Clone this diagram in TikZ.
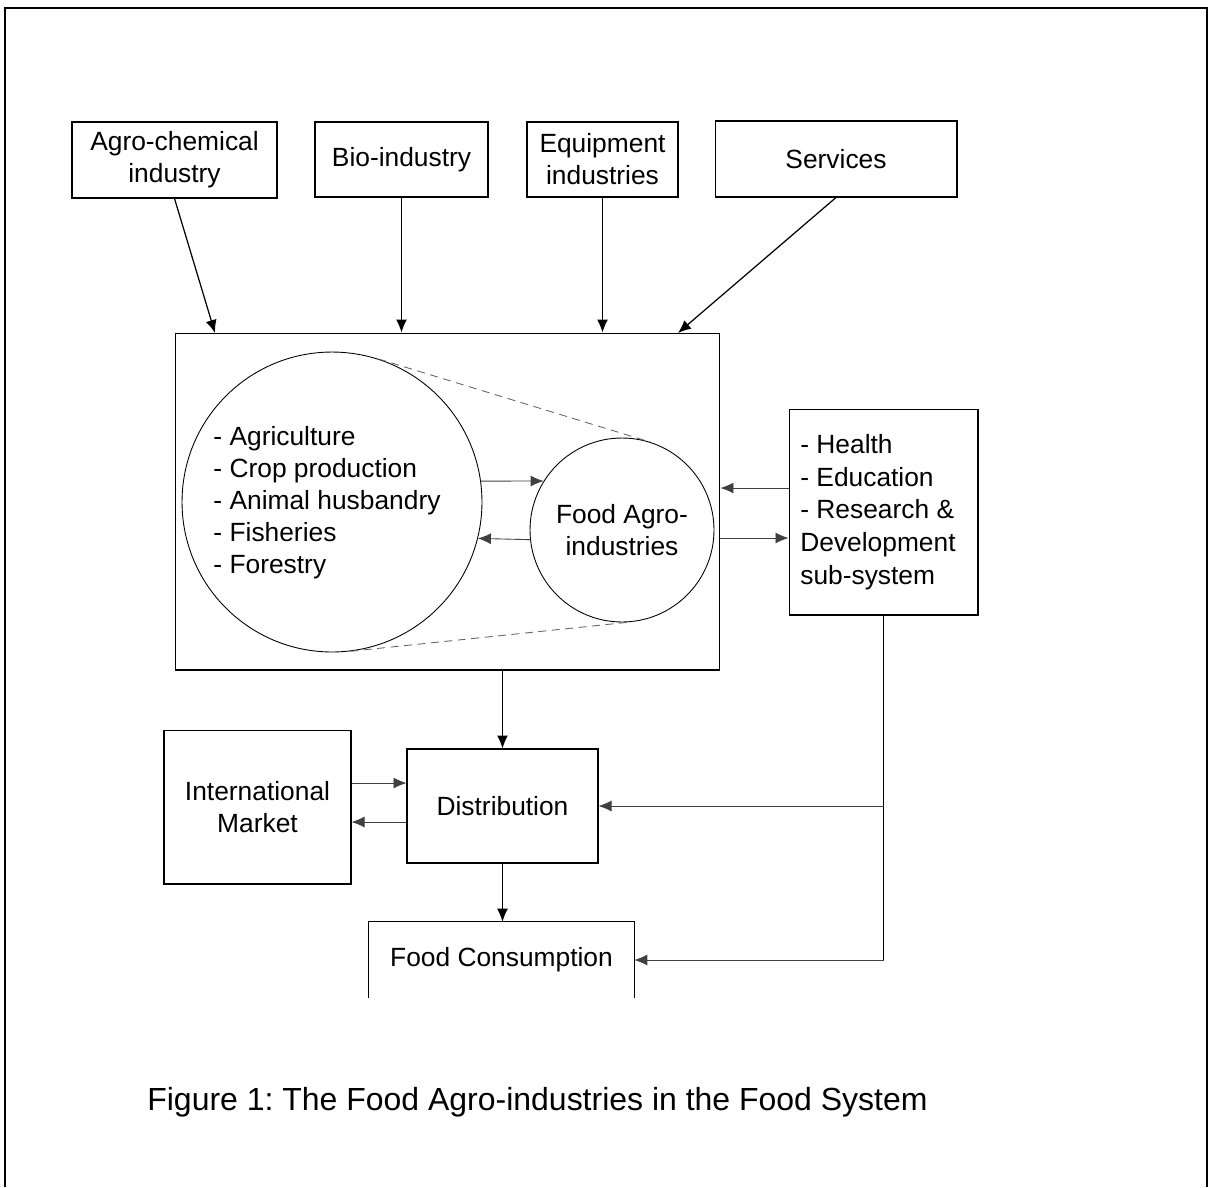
\documentclass[tikz,border=0pt]{standalone}
\usepackage{fontspec}
\setmainfont{Liberation Sans}
\usepackage{tikz}
\usetikzlibrary{arrows.meta, positioning, calc}
\frenchspacing

\begin{document}
\begin{tikzpicture}[
  x=0.02cm, y=-0.02cm,
  font=\fontsize{15pt}{18.2pt}\selectfont,
  unit/.style={draw, line width=0.6pt, align=center, inner sep=0pt},
  sphere/.style={draw, circle, line width=0.5pt, inner sep=0pt, align=left},
  flow/.style={-{Latex[length=2.6mm, width=2.2mm]}, line width=0.7pt},
  link/.style={-{Latex[length=2.6mm, width=2.2mm]}, line width=0.5pt, black!75},
  hull/.style={line width=0.5pt, black!60, dash pattern=on 1.6mm off 1.1mm},
]
\useasboundingbox (0,0) rectangle (1213,1187);

% Page frame (open at the bottom)
\draw[line width=1.1pt] (5,1187) -- (5,8) -- (1207,8) -- (1207,1187);

% Supplying industries
\node[unit, minimum width=4.1cm,  minimum height=1.52cm] at (174.5,160) (agro)  {Agro-chemical\\industry};
\node[unit, minimum width=3.46cm, minimum height=1.5cm]  at (401.5,159.5) (bio) {Bio-industry};
\node[unit, minimum width=3.02cm, minimum height=1.5cm]  at (602.5,159.5) (equip) {Equipment\\industries};
\node[unit, minimum width=4.84cm, minimum height=1.52cm] at (836,159) (serv)    {Services};

% Core box with the two spheres
\node[unit, minimum width=10.9cm, minimum height=6.74cm] at (447.5,501.5) (core) {};
\node[sphere, minimum size=6.0cm] at (332,502) (bigc) {};
\node[align=left, inner sep=0pt] at (327,503) (bigtxt)
  {- Agriculture\\- Crop production\\- Animal husbandry\\- Fisheries\\- Forestry};
\node[sphere, align=center, minimum size=3.68cm] at (622,530) (smallc) {Food Agro-\\industries};
\draw[hull] (bigc.72.8)  -- (smallc.72.8);
\draw[hull] (bigc.-83.8) -- (smallc.-83.8);

% Support sub-system
\node[unit, minimum width=3.78cm, minimum height=4.12cm] at (883.5,512) (hers) {};
\node[align=left, inner sep=0pt, anchor=west, font=\fontsize{15pt}{18.6pt}\selectfont] at (800,512) (herstxt)
  {- Health\\- Education\\- Research \&\\Development\\sub-system};

% Downstream
\node[unit, minimum width=3.74cm, minimum height=3.08cm] at (257.5,807) (intl)  {International\\Market};
\node[unit, minimum width=3.82cm, minimum height=2.28cm] at (502.5,806) (distr) {Distribution};
\node[align=center, inner sep=0pt, minimum width=5.3cm, minimum height=1.52cm] at (501.5,960) (cons) {Food Consumption};
\draw[line width=0.6pt] (cons.south west) -- (cons.north west) -- (cons.north east) -- (cons.south east);

% Caption
\node[font=\fontsize{18.2pt}{22pt}\selectfont, anchor=base west, inner sep=0pt] at (147,1110) (cap)
  {Figure 1: The Food Agro-industries in the Food System};

% Inputs into the core
\coordinate (inA) at (215,333);
\coordinate (inS) at (678,333);
\draw[flow] (agro.south)  -- (inA);
\draw[flow] (bio.south)   -- (bio.south |- core.north);
\draw[flow] (equip.south) -- (equip.south |- core.north);
\draw[flow] (serv.south)  -- (inS);

% Exchanges between the spheres
\draw[link] (bigc.8)     -- (smallc.148);
\draw[link] (smallc.186) -- (bigc.-14);

% Core <-> support sub-system
\draw[link] ([yshift=0.48cm]hers.west) -- ([yshift=0.48cm]hers.west -| core.east);
\draw[link] ([yshift=-0.52cm]hers.west -| core.east) -- ([yshift=-0.52cm]hers.west);

% Distribution chain
\draw[flow] (core.south -| distr.north) -- (distr.north);
\draw[flow] (distr.south) -- (distr.south |- cons.north);
\draw[link] ([yshift=0.48cm]intl.east) -- ([yshift=0.48cm]intl.east -| distr.west);
\draw[link] ([yshift=-0.3cm]intl.east -| distr.west) -- ([yshift=-0.3cm]intl.east);

% Support sub-system feeding distribution and consumption
\draw[line width=0.7pt] (hers.south) -- (hers.south |- cons.east);
\draw[link] (hers.south |- distr.east) -- (distr.east);
\draw[link] (hers.south |- cons.east)  -- (cons.east);
\end{tikzpicture}
\end{document}
